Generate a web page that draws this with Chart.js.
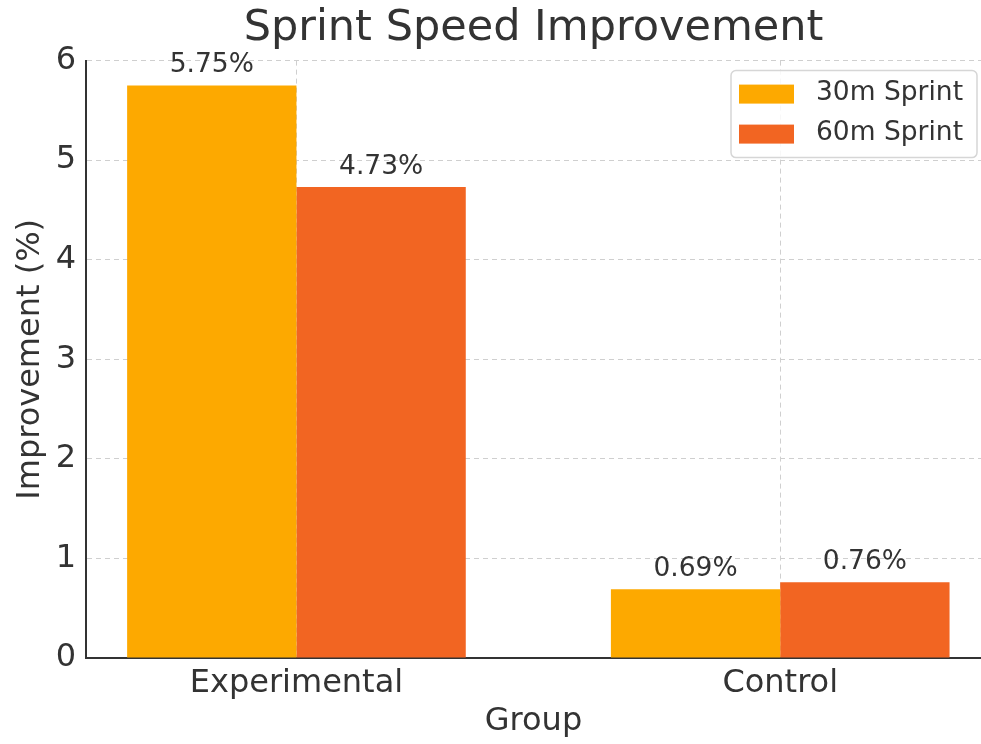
<!DOCTYPE html>
<html>
<head>
<meta charset="utf-8">
<script src="https://cdn.jsdelivr.net/npm/chart.js@4"></script>
<style>
    html, body { margin: 0; padding: 0; background: #fff; overflow: hidden; }
</style>
</head>
<body>
<canvas id="sprint-chart" width="981" height="744"></canvas>
<script>
const groups = ["Experimental", "Control"];
const sprint30 = [5.75, 0.69];
const sprint60 = [4.73, 0.76];
const seriesNames = ["30m Sprint", "60m Sprint"];
const yTicks = [0, 1, 2, 3, 4, 5, 6];

const FONT = "'DejaVu Sans', sans-serif";
const TEXT = "#333333";
const colors = ["#FDA900", "#F26522"];

// bars sit on numeric x positions so the plot can run past the last group
const toPoints = (values) => values.map((v, i) => ({ x: i, y: v }));

const valueLabels = {
    id: "valueLabels",
    afterDatasetsDraw: (chart) => {
        const ctx = chart.ctx;
        ctx.save();
        ctx.fillStyle = TEXT;
        ctx.textAlign = "center";
        ctx.textBaseline = "alphabetic";
        ctx.font = "26.5px " + FONT;
        chart.data.datasets.forEach((dataset, i) => {
            chart.getDatasetMeta(i).data.forEach((bar, index) => {
                const value = dataset.data[index].y;
                ctx.fillText(value.toFixed(2) + "%", bar.x, bar.y - 13);
            });
        });
        ctx.restore();
    },
};

const boxLegend = {
    id: "boxLegend",
    afterDraw: (chart) => {
        const ctx = chart.ctx;
        const area = chart.chartArea;
        const w = 246, h = 87;
        const x = area.right - w - 4;
        const y = area.top + 10;
        ctx.save();
        ctx.fillStyle = "rgba(255,255,255,0.85)";
        ctx.strokeStyle = "#d6d6d6";
        ctx.lineWidth = 1.5;
        ctx.beginPath();
        ctx.roundRect(x, y, w, h, 5);
        ctx.fill();
        ctx.stroke();
        ctx.font = "26.5px " + FONT;
        ctx.textBaseline = "middle";
        ctx.textAlign = "left";
        chart.data.datasets.forEach((dataset, i) => {
            const rowY = y + 23 + i * 40;
            ctx.fillStyle = dataset.backgroundColor;
            ctx.fillRect(x + 8, rowY - 9, 55, 19);
            ctx.fillStyle = TEXT;
            ctx.fillText(dataset.label, x + 85, rowY);
        });
        ctx.restore();
    },
};

new Chart(document.getElementById("sprint-chart"), {
    type: "bar",
    data: {
        datasets: [
            {
                label: seriesNames[0],
                data: toPoints(sprint30),
                backgroundColor: colors[0],
                borderWidth: 0,
                categoryPercentage: 0.7,
                barPercentage: 1,
            },
            {
                label: seriesNames[1],
                data: toPoints(sprint60),
                backgroundColor: colors[1],
                borderWidth: 0,
                categoryPercentage: 0.7,
                barPercentage: 1,
            },
        ],
    },
    options: {
        responsive: false,
        animation: false,
        layout: { padding: 0 },
        plugins: {
            legend: { display: false },
            tooltip: { enabled: false },
            title: {
                display: true,
                text: "Sprint Speed Improvement",
                color: TEXT,
                font: { family: FONT, size: 43, weight: "normal" },
                fullSize: false,
                padding: { top: 3, bottom: 6 },
            },
        },
        scales: {
            x: {
                type: "linear",
                min: -0.435,
                max: 1.415,
                offset: false,
                afterBuildTicks: (scale) => {
                    scale.ticks = groups.map((_, i) => ({ value: i }));
                },
                afterFit: (scale) => {
                    scale.height = 86;
                },
                ticks: {
                    color: TEXT,
                    padding: 6,
                    font: { family: FONT, size: 32 },
                    callback: (value) => groups[value] ?? "",
                },
                grid: {
                    offset: false,
                    color: "#cfcfcf",
                    lineWidth: 1,
                    drawTicks: false,
                },
                border: { display: true, color: "#333333", width: 2, dash: [5, 4] },
                title: {
                    display: true,
                    text: "Group",
                    color: TEXT,
                    font: { family: FONT, size: 32 },
                    padding: { top: 0, bottom: 3 },
                },
            },
            y: {
                min: 0,
                max: 6,
                afterBuildTicks: (scale) => {
                    scale.ticks = yTicks.map((v) => ({ value: v }));
                },
                afterFit: (scale) => {
                    scale.width = 86;
                },
                ticks: {
                    color: TEXT,
                    padding: 10,
                    font: { family: FONT, size: 32 },
                },
                grid: {
                    color: "#cfcfcf",
                    lineWidth: 1,
                    drawTicks: false,
                },
                border: { display: true, color: "#333333", width: 2, dash: [5, 4] },
                title: {
                    display: true,
                    text: "Improvement (%)",
                    color: TEXT,
                    font: { family: FONT, size: 32 },
                    padding: { top: 11, bottom: 0 },
                },
            },
        },
    },
    plugins: [valueLabels, boxLegend],
});
</script>
</body>
</html>
